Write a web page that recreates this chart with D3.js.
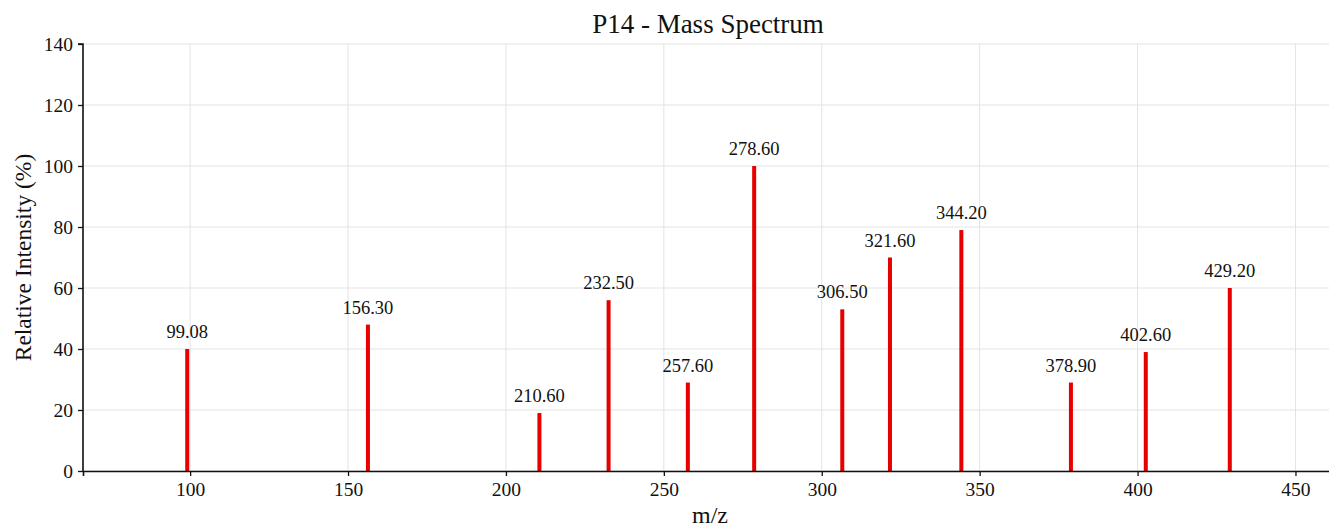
<!DOCTYPE html>
<html><head><meta charset="utf-8">
<script src="https://cdn.jsdelivr.net/npm/d3@7"></script>
<style>
body{margin:0;background:#fff;}
svg{display:block;font-family:"Liberation Serif","Times New Roman",serif;}
</style></head>
<body>
<svg id="chart" width="1329" height="527"></svg>
<script>
const mz = [99.08, 156.30, 210.60, 232.50, 257.60, 278.60, 306.50, 321.60, 344.20, 378.90, 402.60, 429.20];
const intensity = [40, 48, 19, 56, 29, 100, 53, 70, 79, 29, 39, 60];
const peakLabels = ["99.08","156.30","210.60","232.50","257.60","278.60","306.50","321.60","344.20","378.90","402.60","429.20"];
const xTicks = [100, 150, 200, 250, 300, 350, 400, 450];
const yTicks = [0, 20, 40, 60, 80, 100, 120, 140];
const title = "P14 - Mass Spectrum";

const svg = d3.select("#chart");
const m = {left: 83, right: -5, top: 44, bottom: 56};
const W = 1329, H = 527;
const x = d3.scaleLinear().domain([66.08, 462.2]).range([m.left, W - m.right]);
const y = d3.scaleLinear().domain([0, 140]).range([H - m.bottom, m.top]);

// grid
svg.append("g").selectAll("line").data(xTicks).join("line")
  .attr("x1", d => x(d)).attr("x2", d => x(d)).attr("y1", y(0)).attr("y2", y(140))
  .attr("stroke", "#e3e3e3").attr("stroke-width", 1);
svg.append("g").selectAll("line").data(yTicks).join("line")
  .attr("x1", m.left).attr("x2", W).attr("y1", d => y(d)).attr("y2", d => y(d))
  .attr("stroke", "#e3e3e3").attr("stroke-width", 1);

// bars
svg.append("g").selectAll("rect").data(mz).join("rect")
  .attr("x", d => x(d) - 2).attr("width", 4)
  .attr("y", (d, i) => y(intensity[i])).attr("height", (d, i) => y(0) - y(intensity[i]))
  .attr("fill", "#e60000");

// peak labels
svg.append("g").selectAll("text").data(mz).join("text")
  .attr("x", d => x(d)).attr("y", (d, i) => y(intensity[i]) - 11)
  .attr("text-anchor", "middle").attr("font-size", 18.5).attr("fill", "#111")
  .text((d, i) => peakLabels[i]);

// axes
const xAxis = d3.axisBottom(x).tickValues(xTicks).tickSize(5).tickPadding(6).tickFormat(d3.format("d"));
const yAxis = d3.axisLeft(y).tickValues(yTicks).tickSize(5).tickPadding(5).tickFormat(d3.format("d"));
const gx = svg.append("g").attr("transform", `translate(0,${y(0)})`).call(xAxis);
const gy = svg.append("g").attr("transform", `translate(${m.left},0)`).call(yAxis);
[gx, gy].forEach(g => {
  g.select(".domain").attr("stroke", "#111").attr("stroke-width", 1.6);
  g.selectAll(".tick line").attr("stroke", "#111").attr("stroke-width", 1.3);
  g.selectAll(".tick text").attr("font-size", 19.5).attr("fill", "#111")
    .attr("font-family", '"Liberation Serif","Times New Roman",serif');
});
gy.select(".domain").attr("d", `M-5,${y(140)}H0V${y(0)}`);

// title and labels
svg.append("text").attr("x", 708).attr("y", 33).attr("text-anchor", "middle")
  .attr("font-size", 27).attr("fill", "#111").text(title);
svg.append("text").attr("x", 710).attr("y", 523).attr("text-anchor", "middle")
  .attr("font-size", 24).attr("fill", "#111").text("m/z");
svg.append("text").attr("transform", `translate(31,${(y(0)+y(140))/2}) rotate(-90)`)
  .attr("text-anchor", "middle").attr("font-size", 23.5).attr("fill", "#111")
  .text("Relative Intensity (%)");
</script>
</body></html>
